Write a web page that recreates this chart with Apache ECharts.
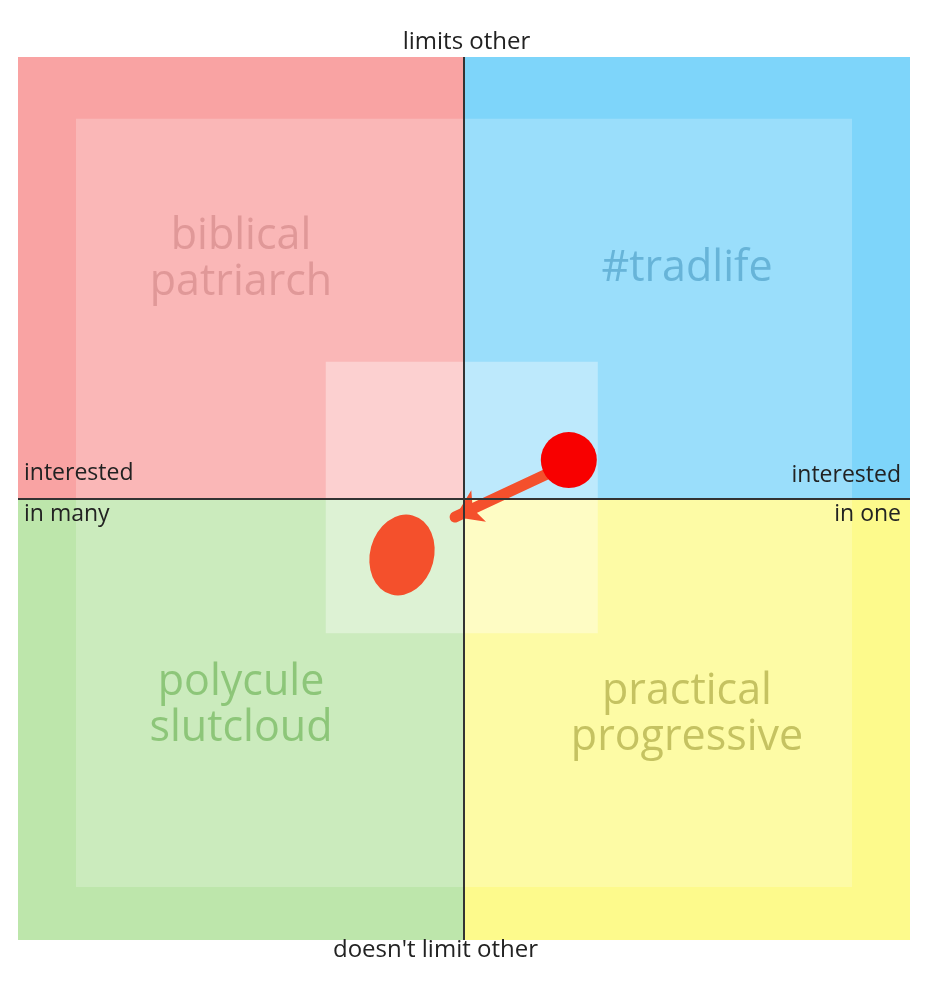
<!DOCTYPE html>
<html><head><meta charset="utf-8">
<script src="https://cdn.jsdelivr.net/npm/echarts@6/dist/echarts.min.js"></script>
<style>html,body{margin:0;background:#fff}#c{width:933px;height:1000px}</style></head>
<body><div id="c"></div>
<script>
const quadrants = [
  {name:'biblical\npatriarch', x:[-10,0], y:[0,10], fill:'#f9a3a3', text:'#d99090', pos:[-5,5.4]},
  {name:'#tradlife', x:[0,10], y:[0,10], fill:'#7ed5fa', text:'#5aa9cf', pos:[5,5.2]},
  {name:'polycule\nslutcloud', x:[-10,0], y:[-10,0], fill:'#bde6ab', text:'#7dbd68', pos:[-5,-4.7]},
  {name:'practical\nprogressive', x:[0,10], y:[-10,0], fill:'#fdfa8c', text:'#b7b450', pos:[5,-4.9]}
];
const innerSquare = [-8.7, 8.7, -8.8, 8.6];
const centerSquare = [-3.1, 3.0, -3.05, 3.1];
const dot = [2.35, 0.87];
const arrowFrom = [1.85, 0.55];
const arrowTo = [-0.2, -0.42];
const blob = [-1.39, -1.28];

const chart = echarts.init(document.getElementById('c'));
const ts = {fontSize:23,fill:'#222',fontFamily:'Open Sans'};
chart.setOption({
  animation:false,
  grid:{left:18,right:23,top:57,bottom:60},
  xAxis:{type:'value',min:-10,max:10,show:false},
  yAxis:{type:'value',min:-10,max:10,show:false},
  series:[
    {type:'scatter',data:[],markArea:{silent:true,data:quadrants.map(q=>[{xAxis:q.x[0],yAxis:q.y[0],itemStyle:{color:q.fill}},{xAxis:q.x[1],yAxis:q.y[1]}])}},
    {type:'scatter',data:[],markArea:{silent:true,itemStyle:{color:'rgba(255,255,255,0.22)'},data:[[{xAxis:innerSquare[0],yAxis:innerSquare[2]},{xAxis:innerSquare[1],yAxis:innerSquare[3]}]]}},
    {type:'scatter',data:[],markArea:{silent:true,itemStyle:{color:'rgba(255,255,255,0.35)'},data:[[{xAxis:centerSquare[0],yAxis:centerSquare[2]},{xAxis:centerSquare[1],yAxis:centerSquare[3]}]]},
     markLine:{silent:true,symbol:'none',label:{show:false},lineStyle:{color:'#333',width:2,type:'solid'},data:[{xAxis:0},{yAxis:0}]}},
    {type:'scatter',symbolSize:0,data:quadrants.map(q=>({value:q.pos,label:{show:true,formatter:q.name,color:q.text,fontSize:43,lineHeight:46,fontFamily:'Open Sans'}}))},
    {type:'lines',coordinateSystem:'cartesian2d',symbol:['none','arrow'],symbolSize:26,lineStyle:{color:'#f4502c',width:11,opacity:1,cap:'round'},data:[{coords:[arrowFrom,arrowTo]}]},
    {type:'scatter',data:[{value:dot,symbolSize:56,itemStyle:{color:'#f80000',opacity:1}},{value:blob,symbol:'circle',symbolSize:[64,82],symbolRotate:-15,itemStyle:{color:'#f4502c',opacity:1}}]}
  ],
  graphic:[
    {type:'text',z:100,left:'center',top:30,style:{text:'limits other',fontSize:24,fill:'#222',fontFamily:'Open Sans'}},
    {type:'text',z:100,left:333,top:938,style:{text:"doesn't limit other",fontSize:24,fill:'#222',fontFamily:'Open Sans'}},
    {type:'text',z:100,left:24,top:462,style:ts},
    {type:'text',z:100,left:24,top:503,style:ts},
    {type:'text',z:100,right:32,top:464,style:ts},
    {type:'text',z:100,right:32,top:503,style:ts}
  ]
});
const g = chart.getOption().graphic;
chart.setOption({graphic:[
  {id:g[0].elements[2].id,style:{text:'interested'}},
  {id:g[0].elements[3].id,style:{text:'in many'}},
  {id:g[0].elements[4].id,style:{text:'interested'}},
  {id:g[0].elements[5].id,style:{text:'in one'}}
]});
</script></body></html>
